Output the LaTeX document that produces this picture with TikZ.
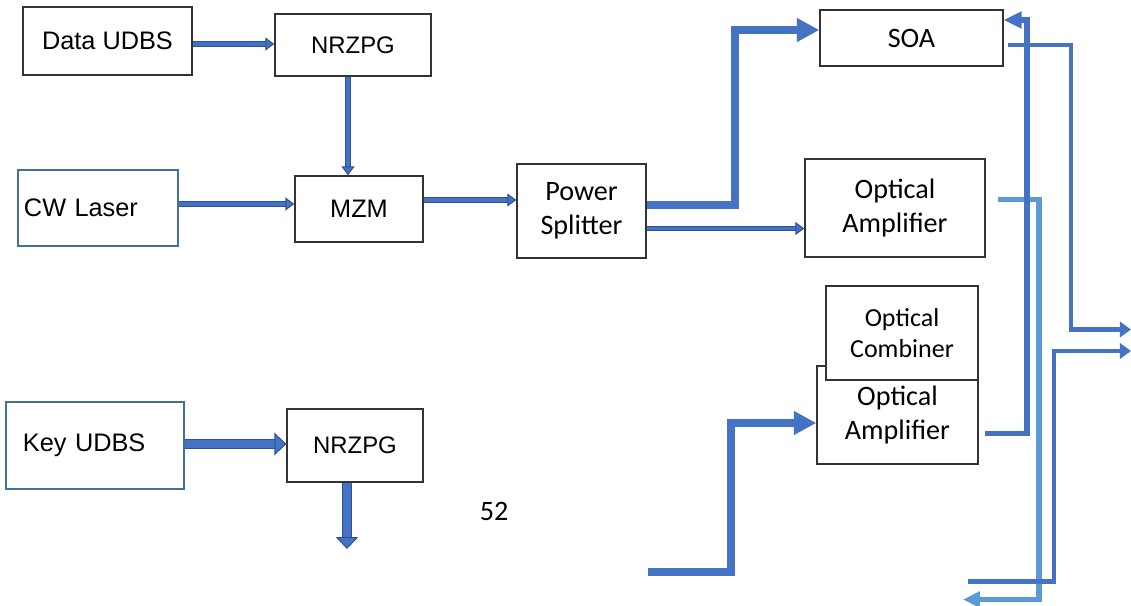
\documentclass[tikz,border=0pt]{standalone}
\usepackage{fontspec}
\setmainfont{Carlito}
\newfontfamily\arialfont{Liberation Sans}
\usepackage{xcolor}
\usepackage{tikz}
\usetikzlibrary{arrows.meta}

\definecolor{accent}{RGB}{68,114,196}
\definecolor{accdark}{RGB}{47,82,143}
\definecolor{lightacc}{RGB}{91,155,213}
\definecolor{srcblue}{RGB}{65,113,156}

\begin{document}
\begin{tikzpicture}[
  x=0.025cm, y=-0.025cm,
  box/.style={rectangle, draw=black!80, line width=0.9pt, fill=white, inner sep=0pt, align=center, font=\fontsize{20}{24.4}\selectfont},
  sansbox/.style={box, font=\arialfont\fontsize{18}{22}\selectfont},
  srcbox/.style={rectangle, draw=srcblue, line width=1.4pt, align=left, font=\arialfont\fontsize{18}{22}\selectfont},
  blk/.style={draw=accdark, double=accent, double distance=2.6pt, line width=0.7pt, -{Triangle[length=6.4pt, width=9.2pt, fill=accent, line width=0.7pt]}},
  blkfat/.style={draw=accdark, double=accent, double distance=5.6pt, line width=0.7pt, -{Triangle[length=8.5pt, width=16pt, fill=accent, line width=0.7pt]}},
  fat/.style={draw=accent, line width=5.7pt, -{Triangle[length=16pt, width=16pt]}},
  mid/.style={draw=accent, line width=4pt, -{Triangle[length=12.8pt, width=11.4pt]}},
  lightline/.style={draw=lightacc, line width=3.6pt, -{Triangle[length=12pt, width=11pt]}},
  thinline/.style={draw=accent, line width=3pt, -{Triangle[length=8pt, width=11pt]}}
]
\useasboundingbox (0,0) rectangle (1131,605);

% Data side
\node[sansbox, minimum width=4.225cm, minimum height=1.7cm] (data) at (107.5,41) {Data UDBS};
\node[sansbox, minimum width=3.9cm, minimum height=1.55cm, font=\arialfont\fontsize{17}{20}\selectfont] (nrzpgA) at (353,45) {NRZPG};
\node[srcbox, inner xsep=0.15cm, text width=3.7cm, minimum height=1.9cm] (cw) at (98,208) {CW Laser};
\node[sansbox, minimum width=3.2cm, minimum height=1.65cm] (mzm) at (359,209) {MZM};
\node[box, minimum width=3.225cm, minimum height=2.35cm] (splitter) at (581.5,211) {Power\\Splitter};

\draw[blk] (data.east |- 0,44) -- (nrzpgA.west |- 0,44);
\draw[blk] (nrzpgA.south -| 348,0) -- (mzm.north -| 348,0);
\draw[blk] (cw.east |- 0,204) -- (mzm.west |- 0,204);
\draw[blk] (mzm.east |- 0,200) -- (splitter.west |- 0,200);

% Amplifier stage
\node[box, minimum width=4.575cm, minimum height=1.4cm] (soa) at (911.5,38) {SOA};
\node[box, minimum width=4.5cm, minimum height=2.45cm] (ampA) at (895,208) {Optical\\Amplifier};
\node[box, minimum width=4.025cm, minimum height=2.45cm] (ampB) at (897.5,415) {Optical\\Amplifier};
\node[box, minimum width=3.8cm, minimum height=2.35cm, font=\fontsize{18.5}{22.5}\selectfont] (combiner) at (902,333) {Optical\\Combiner};

\draw[fat] (splitter.east |- 0,205) -| (735,30) -- (soa.west |- 0,30);
\draw[blk] (splitter.east |- 0,228.5) -- (ampA.west |- 0,228.5);

\coordinate (inB) at (648,572);
\draw[fat] (inB) -| (731,423) -- (ampB.west |- 0,423);

% Outputs and feedback
\coordinate (outA) at (1131,329.5);
\coordinate (outB) at (963,599.5);
\coordinate (inC) at (968,581.5);
\coordinate (outC) at (1131,351);

\draw[lightline] ([xshift=0.3cm]ampA.east |- 0,199.5) -| (1039,599.5) -- (outB);
\draw[mid] ([xshift=0.17cm]ampB.east |- 0,433.5) -| (1027,20) -- (soa.east |- 0,20);
\draw[thinline] ([xshift=0.12cm]soa.east |- 0,45) -| (1071,329.5) -- (outA);
\draw[thinline] (inC) -| (1054,351) -- (outC);

% Key side
\node[srcbox, inner xsep=0.425cm, text width=3.6cm, minimum height=2.175cm] (key) at (95,445.5) {Key UDBS};
\node[sansbox, minimum width=3.4cm, minimum height=1.825cm, font=\arialfont\fontsize{17}{20}\selectfont] (nrzpgB) at (355,445.5) {NRZPG};
\coordinate (keyout) at (347,549);

\draw[blkfat] (key.east |- 0,444) -- (nrzpgB.west |- 0,444);
\draw[blkfat] (nrzpgB.south -| 347,0) -- (keyout);

\node[font=\fontsize{20}{24}\selectfont] (page) at (494,511) {52};

\end{tikzpicture}
\end{document}
